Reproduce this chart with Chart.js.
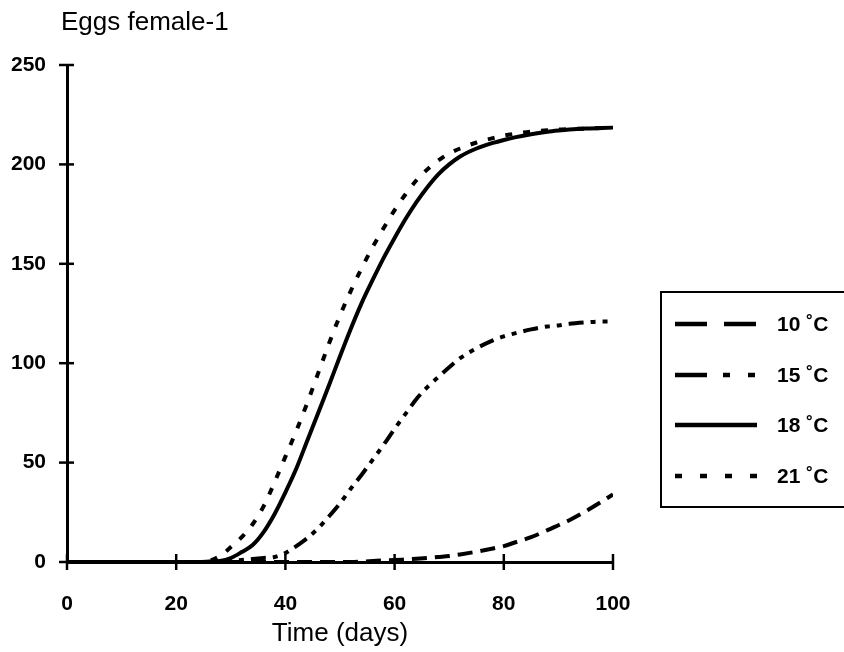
<!DOCTYPE html>
<html>
<head>
<meta charset="utf-8">
<script src="https://cdn.jsdelivr.net/npm/chart.js@4.4.1/dist/chart.umd.min.js"></script>
<style>
  html, body { margin: 0; padding: 0; background: #fff; }
  #wrap { width: 844px; height: 652px; }
</style>
</head>
<body>
<div id="wrap"><canvas id="eggsChart" width="844" height="652"></canvas></div>
<script>
// days on the x axis
const days = [0, 5, 10, 15, 20, 24, 26, 28, 30, 32, 34, 36, 38, 40, 42, 44, 46, 48, 50, 52, 54, 56, 58, 60,
              62, 64, 66, 68, 70, 72, 75, 78, 80, 82, 85, 88, 90, 92, 95, 98, 100];

// cumulative eggs per female at each temperature
const eggs10 = [0, 0, 0, 0, 0, 0, 0, 0, 0, 0, 0, 0, 0, 0, 0, 0, 0, 0, 0, 0, 0.2, 0.5, 0.8, 1,
                1.3, 1.6, 2, 2.5, 3, 3.8, 5.2, 6.8, 8, 9.8, 12.5, 16, 18.5, 21, 25.5, 30.5, 34];
const eggs15 = [0, 0, 0, 0, 0, 0, 0, 0, 0.5, 1, 1.5, 2, 2.5, 4.5, 8, 12, 17, 23, 29.5, 37, 44, 51.5, 59, 67,
                74.5, 82, 88, 93, 98, 102.5, 107.5, 111.5, 113.5, 115, 117, 118.5, 119, 119.8, 120.5, 121, 121];
const eggs18 = [0, 0, 0, 0, 0, 0, 0.2, 0.5, 2, 5, 8.5, 15, 24, 35, 47, 61, 75, 89, 103.5, 117.5, 130.5, 142, 153, 163,
                172.5, 181, 188.5, 195, 200, 204, 208, 210.8, 212.3, 213.6, 215.2, 216.4, 217, 217.5, 218, 218.3, 218.5];
const eggs21 = [0, 0, 0, 0, 0, 0, 0.5, 3, 7.5, 12.5, 19, 28, 40, 53, 66, 80, 95, 110, 124, 136.5, 148, 158.5, 168, 177,
                185, 192, 197.5, 202, 205.5, 208, 211, 213.2, 214.5, 215.4, 216.5, 217.2, 217.5, 217.8, 218, 218.3, 218.5];

const seriesLabels = ['10 \u02daC', '15 \u02daC', '18 \u02daC', '21 \u02daC'];

const FONT = "'Liberation Sans', Arial, sans-serif";

function pts(vals) {
    return days.map((d, i) => ({ x: d, y: vals[i] }));
}

// tick marks that cross the axis lines
const crossTicks = {
    id: 'crossTicks',
    afterDraw(chart) {
        const { ctx, scales: { x, y }, chartArea } = chart;
        ctx.save();
        ctx.strokeStyle = '#000';
        ctx.lineWidth = 2.5;
        x.ticks.forEach(t => {
            const px = x.getPixelForValue(t.value);
            ctx.beginPath();
            ctx.moveTo(px, chartArea.bottom - 8);
            ctx.lineTo(px, chartArea.bottom + 8);
            ctx.stroke();
        });
        y.ticks.forEach(t => {
            const py = y.getPixelForValue(t.value);
            ctx.beginPath();
            ctx.moveTo(chartArea.left - 8, py);
            ctx.lineTo(chartArea.left + 7, py);
            ctx.stroke();
        });
        ctx.restore();
    }
};

// y axis caption at top left
const topCaption = {
    id: 'topCaption',
    afterDraw(chart) {
        const ctx = chart.ctx;
        ctx.save();
        ctx.fillStyle = '#000';
        ctx.font = '26px ' + FONT;
        ctx.textBaseline = 'alphabetic';
        ctx.textAlign = 'left';
        ctx.fillText('Eggs female-1', 61, 30);
        ctx.restore();
    }
};

// boxed legend on the right, cut by the canvas edge
const boxLegend = {
    id: 'boxLegend',
    afterDraw(chart) {
        const ctx = chart.ctx;
        const dashes = [[32, 17], [32, 16, 7, 18, 7, 18], [], [7, 18]];
        const rows = [324, 375, 425, 476];
        ctx.save();
        ctx.strokeStyle = '#000';
        ctx.lineWidth = 2;
        ctx.strokeRect(661, 292, 260, 215);
        chart.data.datasets.forEach((ds, i) => {
            ctx.beginPath();
            ctx.setLineDash(dashes[i]);
            ctx.lineWidth = 4.5;
            ctx.moveTo(675, rows[i]);
            ctx.lineTo(757, rows[i]);
            ctx.stroke();
            ctx.setLineDash([]);
            ctx.fillStyle = '#000';
            ctx.font = 'bold 21px ' + FONT;
            ctx.textBaseline = 'middle';
            ctx.fillText(ds.label, 777, rows[i] + 1);
        });
        ctx.restore();
    }
};

const ctx = document.getElementById('eggsChart').getContext('2d');
new Chart(ctx, {
    type: 'line',
    data: {
        datasets: [
            { label: seriesLabels[0], data: pts(eggs10), borderDash: [15, 8] },
            { label: seriesLabels[1], data: pts(eggs15), borderDash: [15, 7, 5, 7, 5, 7] },
            { label: seriesLabels[2], data: pts(eggs18), borderDash: [] },
            { label: seriesLabels[3], data: pts(eggs21), borderDash: [7, 11] }
        ]
    },
    options: {
        responsive: false,
        animation: false,
        layout: { padding: { top: 65, right: 231, left: 0, bottom: 0 } },
        elements: {
            line: { borderColor: '#000', borderWidth: 4, cubicInterpolationMode: 'monotone', fill: false },
            point: { radius: 0 }
        },
        scales: {
            x: {
                type: 'linear',
                min: 0,
                max: 100,
                afterFit(scale) { scale.height = 90; },
                grid: { display: false, drawTicks: false },
                border: { display: true, color: '#000', width: 3 },
                ticks: { stepSize: 20, color: '#000', padding: 30, font: { family: FONT, size: 21, weight: 'bold' } },
                title: { display: true, text: 'Time (days)', color: '#000', padding: { top: 0, bottom: 3 },
                         font: { family: FONT, size: 26 } }
            },
            y: {
                min: 0,
                max: 250,
                afterFit(scale) { scale.width = 67; },
                grid: { display: false, drawTicks: false },
                border: { display: true, color: '#000', width: 3 },
                ticks: { stepSize: 50, color: '#000', padding: 21, font: { family: FONT, size: 21, weight: 'bold' } }
            }
        },
        plugins: {
            legend: { display: false },
            tooltip: { enabled: false }
        }
    },
    plugins: [crossTicks, topCaption, boxLegend]
});
</script>
</body>
</html>
